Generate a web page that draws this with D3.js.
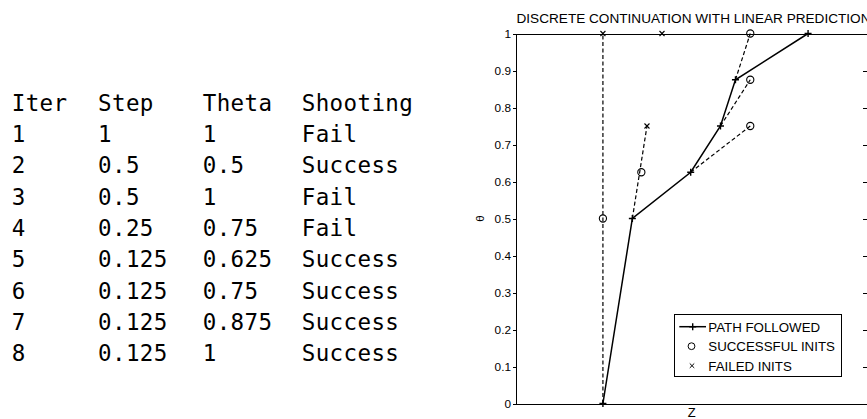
<!DOCTYPE html>
<html>
<head>
<meta charset="utf-8">
<script src="https://cdn.jsdelivr.net/npm/d3@7"></script>
<style>
  body { margin: 0; background: #fff; }
  svg { display: block; }
  .tbl text { font-family: 'DejaVu Sans Mono', monospace; font-size: 22.5px; letter-spacing: 0.4px; fill: #000; }
  .axis text { font-family: 'Liberation Sans', Arial, sans-serif; font-size: 11.8px; fill: #000; }
  .axis path, .axis line { stroke: #000; shape-rendering: crispEdges; }
  .chart-title, .axis-title, .legend text { font-family: 'Liberation Sans', Arial, sans-serif; fill: #000; }
</style>
</head>
<body>
<svg id="chart"></svg>
<script>
// table on the left
const tableHeaders = ['Iter', 'Step', 'Theta', 'Shooting'];
const iterations = ['1', '2', '3', '4', '5', '6', '7', '8'];
const stepSizes = ['1', '0.5', '0.5', '0.25', '0.125', '0.125', '0.125', '0.125'];
const thetaValues = ['1', '0.5', '1', '0.75', '0.625', '0.75', '0.875', '1'];
const shootingResults = ['Fail', 'Success', 'Fail', 'Fail', 'Success', 'Success', 'Success', 'Success'];

// plot data (z has no tick labels in the original, values read as fraction of the axis)
const pathZ = [0.248, 0.3315, 0.497, 0.5815, 0.624, 0.830];
const pathTheta = [0, 0.5, 0.625, 0.75, 0.875, 1];
const successZ = [0.248, 0.357, 0.666, 0.666, 0.666];
const successTheta = [0.5, 0.625, 0.75, 0.875, 1];
const failedZ = [0.248, 0.373, 0.4156];
const failedTheta = [1, 0.75, 1];
// linear predictions: from a point on the path to the init that was tried
const predictionFrom = [0, 1, 2, 3, 4];
const predictionToZ = [0.248, 0.373, 0.666, 0.666, 0.666];
const predictionToTheta = [1, 0.75, 0.75, 0.875, 1];
const legendLabels = ['PATH FOLLOWED', 'SUCCESSFUL INITS', 'FAILED INITS'];

const W = 867, H = 419;
const svg = d3.select('#chart').attr('width', W).attr('height', H);

// ---- table ----
const colX = [11.7, 98, 202.7, 301.7];
const rowY = i => 110.7 + 31.3 * i;
const tbl = svg.append('g').attr('class', 'tbl');
const rows = [tableHeaders].concat(iterations.map((d, i) => [d, stepSizes[i], thetaValues[i], shootingResults[i]]));
rows.forEach((r, i) => {
    tbl.selectAll(null)
        .data(r)
        .join('text')
        .attr('x', (d, j) => colX[j])
        .attr('y', rowY(i))
        .text(d => d);
});

// ---- plot ----
const plotLeft = 515.5, plotRight = 868, plotTop = 33.5, plotBottom = 403.5;

const xScale = d3.scaleLinear().domain([0, 1]).range([plotLeft, plotRight]);
const yScale = d3.scaleLinear().domain([0, 1]).range([plotBottom, plotTop]);

// custom marker shapes
const plusSymbol = { draw(ctx, size) { const r = Math.sqrt(size) / 2; ctx.moveTo(-r, 0); ctx.lineTo(r, 0); ctx.moveTo(0, -r); ctx.lineTo(0, r); } };
const crossSymbol = { draw(ctx, size) { const r = Math.sqrt(size) / 2; ctx.moveTo(-r, -r); ctx.lineTo(r, r); ctx.moveTo(-r, r); ctx.lineTo(r, -r); } };

// axes
svg.append('g')
    .attr('class', 'axis y-axis')
    .attr('transform', `translate(${plotLeft},0)`)
    .call(d3.axisLeft(yScale).ticks(10).tickSize(3).tickSizeOuter(0).tickPadding(1.5).tickFormat(d3.format('~g')));

svg.append('g')
    .attr('class', 'axis')
    .attr('transform', `translate(${plotRight},0)`)
    .call(d3.axisRight(yScale).ticks(10).tickSize(-5).tickSizeOuter(0).tickFormat(''));

svg.append('g')
    .attr('class', 'axis')
    .attr('transform', `translate(0,${plotBottom})`)
    .call(d3.axisBottom(xScale).tickValues([]).tickSizeOuter(0));

svg.append('g')
    .attr('class', 'axis')
    .attr('transform', `translate(0,${plotTop})`)
    .call(d3.axisTop(xScale).tickValues([]).tickSizeOuter(0));

// titles
svg.append('text')
    .attr('class', 'chart-title')
    .attr('x', 693.5)
    .attr('y', 23.3)
    .attr('text-anchor', 'middle')
    .style('font-size', '13.6px')
    .text('DISCRETE CONTINUATION WITH LINEAR PREDICTION');

svg.append('text')
    .attr('class', 'axis-title')
    .attr('x', (plotLeft + plotRight) / 2)
    .attr('y', 416.7)
    .attr('text-anchor', 'middle')
    .style('font-size', '13px')
    .text('Z');

svg.append('text')
    .attr('class', 'axis-title')
    .attr('text-anchor', 'middle')
    .attr('transform', `translate(484,${(plotTop + plotBottom) / 2}) rotate(-90)`)
    .style('font-size', '11.5px')
    .text('θ');

// predictions (dashed)
const predictions = predictionFrom.map((p, i) => [[pathZ[p], pathTheta[p]], [predictionToZ[i], predictionToTheta[i]]]);
const line = d3.line().x(d => xScale(d[0])).y(d => yScale(d[1]));

svg.append('g')
    .selectAll('path')
    .data(predictions)
    .join('path')
    .attr('d', line)
    .attr('fill', 'none')
    .attr('stroke', '#000')
    .attr('stroke-width', 1.2)
    .attr('stroke-dasharray', '4,2.5');

// path followed
const pathPts = pathZ.map((z, i) => [z, pathTheta[i]]);
svg.append('path')
    .datum(pathPts)
    .attr('d', line)
    .attr('fill', 'none')
    .attr('stroke', '#000')
    .attr('stroke-width', 1.5);

svg.append('g')
    .selectAll('path')
    .data(pathPts)
    .join('path')
    .attr('transform', d => `translate(${xScale(d[0])},${yScale(d[1])})`)
    .attr('d', d3.symbol(plusSymbol, 49))
    .attr('stroke', '#000')
    .attr('stroke-width', 1.4);

// successful inits
svg.append('g')
    .selectAll('circle')
    .data(successZ.map((z, i) => [z, successTheta[i]]))
    .join('circle')
    .attr('cx', d => xScale(d[0]))
    .attr('cy', d => yScale(d[1]))
    .attr('r', 3.6)
    .attr('fill', 'none')
    .attr('stroke', '#000')
    .attr('stroke-width', 1.1);

// failed inits
svg.append('g')
    .selectAll('path')
    .data(failedZ.map((z, i) => [z, failedTheta[i]]))
    .join('path')
    .attr('transform', d => `translate(${xScale(d[0])},${yScale(d[1])})`)
    .attr('d', d3.symbol(crossSymbol, 25))
    .attr('stroke', '#000')
    .attr('stroke-width', 1.1);

// legend
const legend = svg.append('g').attr('class', 'legend');
legend.append('rect')
    .attr('x', 674.5).attr('y', 314.5)
    .attr('width', 166.5).attr('height', 62)
    .attr('fill', '#fff').attr('stroke', '#000').attr('stroke-width', 1)
    .attr('shape-rendering', 'crispEdges');

const legY = i => 326.7 + 19.5 * i;
legend.append('line')
    .attr('x1', 679.3).attr('x2', 706)
    .attr('y1', legY(0)).attr('y2', legY(0))
    .attr('stroke', '#000').attr('stroke-width', 1.5);
legend.append('path')
    .attr('transform', `translate(692.7,${legY(0)})`)
    .attr('d', d3.symbol(plusSymbol, 49))
    .attr('stroke', '#000').attr('stroke-width', 1.4);
legend.append('circle')
    .attr('cx', 691.5).attr('cy', legY(1)).attr('r', 3.4)
    .attr('fill', 'none').attr('stroke', '#000');
legend.append('path')
    .attr('transform', `translate(692,${legY(2)})`)
    .attr('d', d3.symbol(crossSymbol, 20))
    .attr('stroke', '#000');

legend.selectAll('text.lab')
    .data(legendLabels)
    .join('text')
    .attr('class', 'lab')
    .attr('x', 708.3)
    .attr('y', (d, i) => legY(i) + 5)
    .style('font-size', '13.3px')
    .text(d => d);
</script>
</body>
</html>
